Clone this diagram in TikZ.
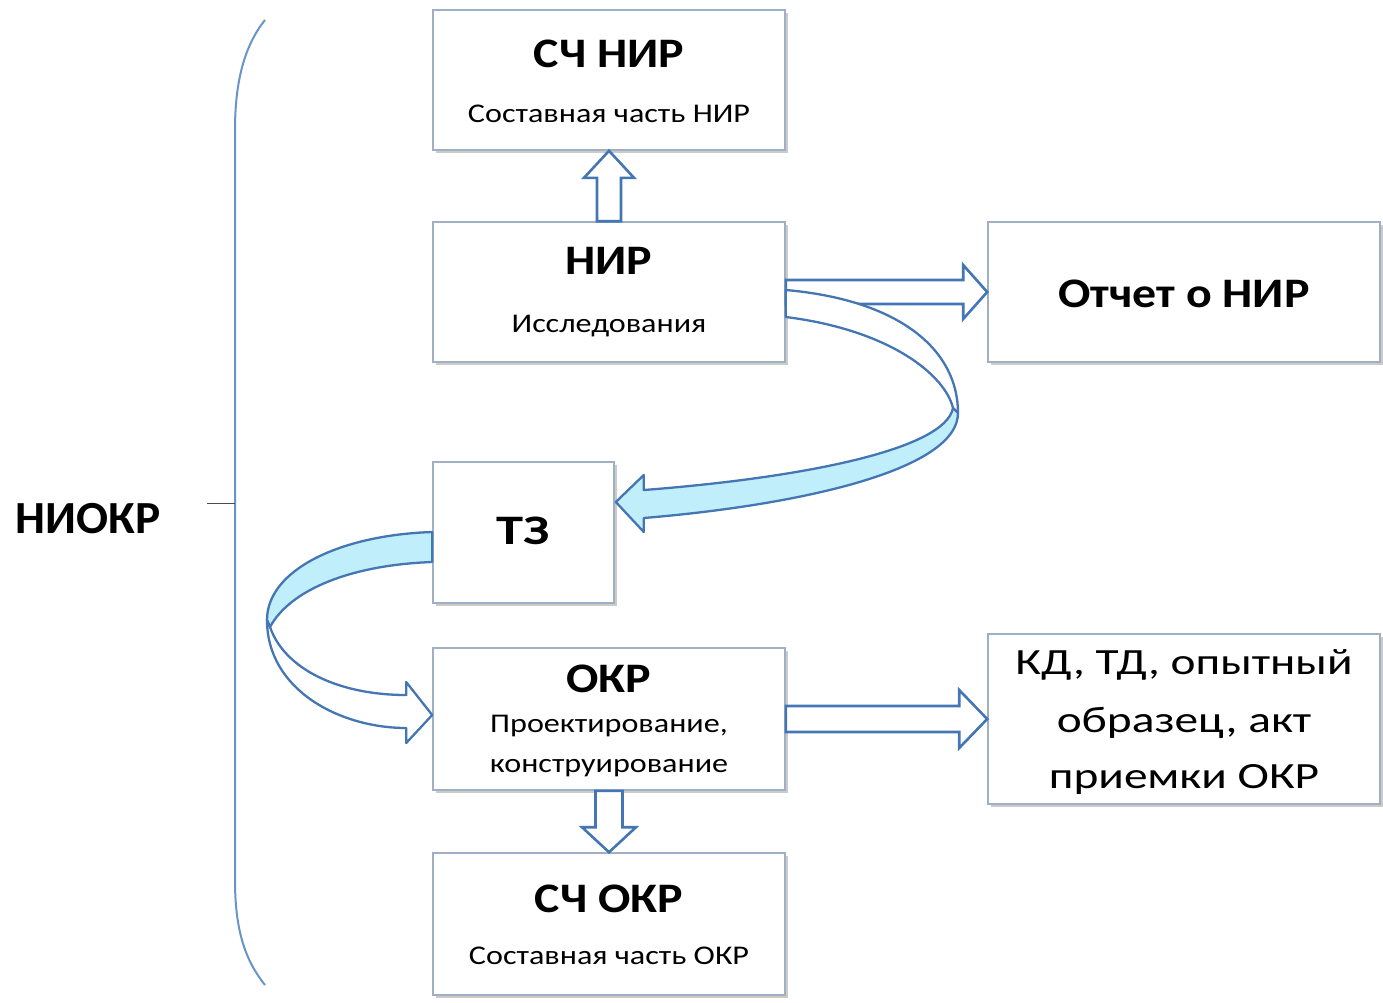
\documentclass[tikz,border=0pt]{standalone}
\usepackage{fontspec}
\setmainfont{Carlito}
\newfontfamily\titlefont[FakeStretch=1.14]{Carlito}
\newfontfamily\subfont[FakeStretch=1.19]{Carlito}
\newfontfamily\resfont[FakeStretch=1.28]{Carlito}
\newfontfamily\sidefont[FakeStretch=1.03]{Carlito}
\newfontfamily\specfont[FakeStretch=1.3]{Carlito}
\usetikzlibrary{calc,shadows}

\definecolor{boxline}{RGB}{160,176,194}
\definecolor{arrowline}{RGB}{68,118,180}
\definecolor{bandfill}{RGB}{192,238,250}
\definecolor{braceline}{RGB}{105,148,200}

\tikzset{
  stage/.style={draw=boxline, line width=1.6pt, fill=white, rectangle, inner sep=0pt,
    drop shadow={shadow xshift=2.5pt, shadow yshift=-2.5pt, fill=black!45, opacity=.45}},
  blk/.style={draw=arrowline, line width=2.6pt, fill=white, line join=miter},
  band/.style={draw=arrowline, line width=2.3pt, line join=round},
  ttl/.style={font=\titlefont\fontsize{42}{50}\selectfont\bfseries, anchor=base, inner sep=0pt},
  sub/.style={font=\subfont\fontsize{27}{32}\selectfont, anchor=base, inner sep=0pt},
  res/.style={font=\resfont\fontsize{37}{44}\selectfont, anchor=base, inner sep=0pt},
}

\begin{document}
\begin{tikzpicture}[x=1pt, y=-1pt]
\useasboundingbox (0,0) rectangle (1383,1002);

% stage boxes
\node[stage, minimum width=352pt, minimum height=140pt] (schnir) at (609,80) {};
\node[stage, minimum width=352pt, minimum height=140pt] (nir) at (609,292) {};
\node[stage, minimum width=392pt, minimum height=140pt] (otchet) at (1184,292) {};
\node[stage, minimum width=181pt, minimum height=141pt] (tz) at (523.5,532.5) {};
\node[stage, minimum width=352pt, minimum height=142pt] (okr) at (609,719) {};
\node[stage, minimum width=392pt, minimum height=170pt] (kd) at (1184,719) {};
\node[stage, minimum width=352pt, minimum height=142pt] (schokr) at (609,924) {};

% texts
\node[ttl] (t1) at ($(schnir.north)+(0,58)$) {СЧ НИР};
\node[sub] (s1) at ($(schnir.north)+(0,113)$) {Составная часть НИР};
\node[ttl] (t2) at ($(nir.north)+(0,53)$) {НИР};
\node[sub] (s2) at ($(nir.north)+(0,111)$) {Исследования};
\node[ttl] (t3) at ($(otchet.north)+(0,86)$) {Отчет о НИР};
\node[ttl, font=\specfont\fontsize{42}{50}\selectfont\bfseries] (t4) at ($(tz.north)+(0,83)$) {ТЗ};
\node[ttl] (t5) at ($(okr.north)+(0,45)$) {ОКР};
\node[sub] (s5a) at ($(okr.north)+(0,85)$) {Проектирование,};
\node[sub] (s5b) at ($(okr.north)+(0,125)$) {конструирование};
\node[ttl] (t6) at ($(schokr.north)+(0,60)$) {СЧ ОКР};
\node[sub] (s6) at ($(schokr.north)+(0,112)$) {Составная часть ОКР};
\node[res] (r1) at ($(kd.north)+(0,41)$) {КД, ТД, опытный};
\node[res] (r2) at ($(kd.north)+(0,99)$) {образец, акт};
\node[res] (r3) at ($(kd.north)+(0,155)$) {приемки ОКР};
\node[ttl, font=\sidefont\fontsize{46}{54}\selectfont\bfseries] (niokr) at (88,533) {НИОКР};

% brace grouping all stages
\coordinate (btop) at (265,20);
\coordinate (bbot) at (265,985);
\coordinate (bmid) at (235,503);
\draw[braceline, line width=2pt]
  (btop) .. controls (245,45) and (235,80) .. (235,130) -- (235,880)
  .. controls (235,930) and (245,960) .. (bbot);
\draw[black!70, line width=0.9pt] (207,503) -- (bmid);

% straight block arrows
\draw[blk] ($(nir.north)+(-12,0)$) -- ($(schnir.south)+(-12,27)$) -- ($(schnir.south)+(-25,27)$)
  -- (schnir.south) -- ($(schnir.south)+(25,27)$) -- ($(schnir.south)+(12,27)$)
  -- ($(nir.north)+(12,0)$) -- cycle;
\draw[blk] ($(nir.east)+(0,-12)$) -- ($(otchet.west)+(-24,-12)$) -- ($(otchet.west)+(-24,-27)$)
  -- (otchet.west) -- ($(otchet.west)+(-24,27)$) -- ($(otchet.west)+(-24,12)$)
  -- ($(nir.east)+(0,12)$) -- cycle;
\draw[blk] ($(okr.east)+(0,-13)$) -- ($(kd.west)+(-28,-13)$) -- ($(kd.west)+(-28,-29)$)
  -- (kd.west) -- ($(kd.west)+(-28,29)$) -- ($(kd.west)+(-28,13)$)
  -- ($(okr.east)+(0,13)$) -- cycle;
\draw[blk] ($(okr.south)+(-13.5,0)$) -- ($(schokr.north)+(-13.5,-25)$) -- ($(schokr.north)+(-27,-25)$)
  -- (schokr.north) -- ($(schokr.north)+(27,-25)$) -- ($(schokr.north)+(13.5,-25)$)
  -- ($(okr.south)+(13.5,0)$) -- cycle;

% curved arrow from research to the specification
\coordinate (ra) at (958,413);
\coordinate (rb) at (953,408);
\draw[band, fill=white]
  ($(nir.east)+(0,-2)$) .. controls (900,300) and (958,350) .. (ra)
  -- (rb) .. controls (945,375) and (890,330) .. ($(nir.east)+(0,25)$) -- cycle;
\draw[band, fill=bandfill]
  (ra) .. controls (958,470) and (800,505) .. ($(tz.east)+(29,-14.5)$)
  -- ($(tz.east)+(29,-0.5)$) -- ($(tz.east)+(1,-30.5)$) -- ($(tz.east)+(29,-57.5)$)
  -- ($(tz.east)+(29,-42.5)$) .. controls (800,478) and (945,450) .. (rb) -- cycle;

% curved arrow from the specification to development
\coordinate (la) at (267,620);
\coordinate (lb) at (270,627);
\draw[band, fill=bandfill]
  ($(tz.west)+(0,-0.5)$) .. controls (340,535) and (267,570) .. (la)
  -- (lb) .. controls (290,590) and (350,565) .. ($(tz.west)+(0,29.5)$) -- cycle;
\draw[band, fill=white]
  (la) .. controls (267,690) and (340,728) .. ($(okr.west)+(-26,9)$)
  -- ($(okr.west)+(-26,24)$) -- ($(okr.west)+(0,-4)$) -- ($(okr.west)+(-26,-37)$)
  -- ($(okr.west)+(-26,-24)$) .. controls (340,695) and (285,670) .. (lb) -- cycle;
\end{tikzpicture}
\end{document}
